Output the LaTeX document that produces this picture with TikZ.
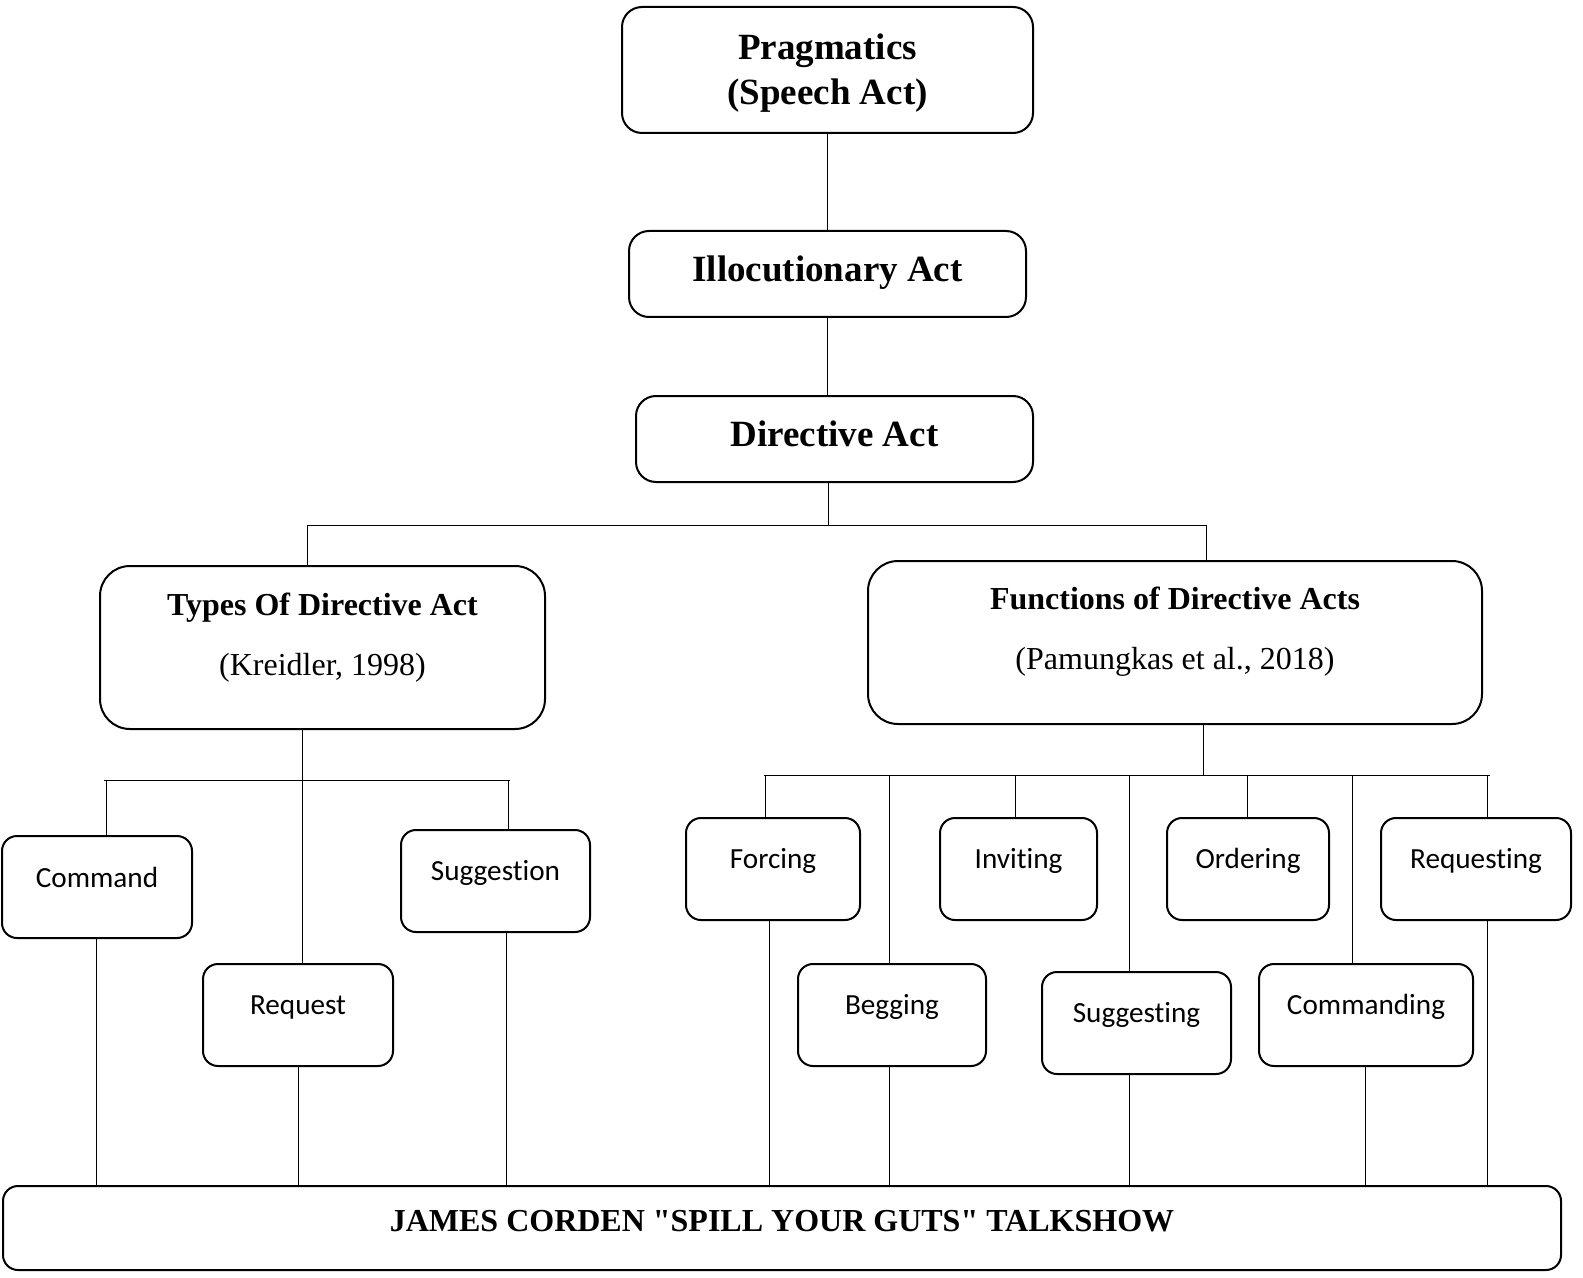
\documentclass[tikz,border=0pt]{standalone}
\usepackage{fontspec}
\setmainfont{Liberation Serif}[Ligatures=TeXOff]
\newfontfamily\calfont[Ligatures=NoCommon]{Carlito}
\usetikzlibrary{fit}
\begin{document}
\begin{tikzpicture}[x=0.5pt,y=-0.5pt,
  box/.style={draw, line width=1pt, rounded corners=7.5pt, inner sep=0pt},
  topbox/.style={box, rounded corners=10pt},
  bigbox/.style={box, rounded corners=15pt},
  conn/.style={line width=0.5pt},
  ttl/.style={font=\fontsize{18.5}{22.5}\selectfont\bfseries, align=center},
  sub/.style={font=\fontsize{16}{30}\selectfont, align=center},
  btm/.style={font=\fontsize{16}{19}\selectfont\bfseries},
  cal/.style={font=\calfont\fontsize{14.6}{17}\selectfont, yshift=4pt}]
\useasboundingbox (0,0) rectangle (1583,1278);

% top chain
\node[topbox, fit={(622,7) (1033,133)}, label={[ttl, yshift=-1.5pt]center:{Pragmatics\\(Speech Act)}}] (prag) {};
\node[topbox, fit={(629,231) (1026,317)}, label={[ttl, yshift=0.5pt]center:{Illocutionary Act}}] (illoc) {};
\node[topbox, fit={(636,396) (1033,482)}, label={[ttl, yshift=2.5pt]center:{Directive Act}}] (dir) {};

% second level
\node[bigbox, fit={(100,566) (545,729)}, label={[sub, yshift=5pt]center:{\textbf{Types Of Directive Act}\\(Kreidler, 1998)}}] (types) {};
\node[bigbox, fit={(868,561) (1482,724)}, label={[sub, yshift=5.5pt]center:{\textbf{Functions of Directive Acts}\\(Pamungkas et al., 2018)}}] (func) {};

% types children
\node[box, fit={(2,836) (192,938)}, label={[cal, yshift=1pt]center:Command}] (cmd) {};
\node[box, fit={(203,964) (393,1066)}, label={[cal]center:Request}] (req) {};
\node[box, fit={(401,830) (590,932)}, label={[cal]center:Suggestion}] (sug) {};

% functions children
\node[box, fit={(686,818) (860,920)}, label={[cal]center:Forcing}] (forc) {};
\node[box, fit={(940,818) (1097,920)}, label={[cal]center:Inviting}] (invi) {};
\node[box, fit={(1167,818) (1329,920)}, label={[cal]center:Ordering}] (orde) {};
\node[box, fit={(1381,818) (1571,920)}, label={[cal]center:Requesting}] (reqg) {};
\node[box, fit={(798,964) (986,1066)}, label={[cal]center:Begging}] (begg) {};
\node[box, fit={(1042,972) (1231,1074)}, label={[cal]center:Suggesting}] (sugg) {};
\node[box, fit={(1259,964) (1473,1066)}, label={[cal]center:Commanding}] (comm) {};

% bottom
\node[box, fit={(3,1186) (1561,1270)}, label={[btm, yshift=3.5pt]center:{JAMES CORDEN "SPILL YOUR GUTS" TALKSHOW}}] (bot) {};

% top connectors
\draw[conn] (prag.south) -- (illoc.north);
\draw[conn] (illoc.south) -- (illoc.south |- dir.north);
\coordinate (j0) at (828,525);
\coordinate (jl) at (307,525);
\coordinate (jr) at (1206,525);
\draw[conn] (j0 |- dir.south) -- (j0);
\draw[conn] (jl) -- (jr);
\draw[conn] (jl) -- (jl |- types.north);
\draw[conn] (jr) -- (jr |- func.north);

% left group
\coordinate (kl) at (104,780);
\coordinate (kr) at (510,780);
\coordinate (kA) at (106,780);
\coordinate (kM) at (302,780);
\coordinate (kS) at (508,780);
\draw[conn] (kl) -- (kr);
\draw[conn] (kM |- types.south) -- (kM |- req.north);
\draw[conn] (kA) -- (kA |- cmd.north);
\draw[conn] (kS) -- (kS |- sug.north);
\coordinate (dA) at (96,0);
\coordinate (dM) at (298,0);
\coordinate (dS) at (506,0);
\draw[conn] (dA |- cmd.south) -- (dA |- bot.north);
\draw[conn] (dM |- req.south) -- (dM |- bot.north);
\draw[conn] (dS |- sug.south) -- (dS |- bot.north);

% right group
\coordinate (rl) at (764,775);
\coordinate (rr) at (1490,775);
\coordinate (rM) at (1203,775);
\draw[conn] (rl) -- (rr);
\draw[conn] (rM |- func.south) -- (rM);
\coordinate (rF) at (765,775);
\coordinate (rB) at (889,775);
\coordinate (rI) at (1015,775);
\coordinate (rS) at (1129,775);
\coordinate (rO) at (1247,775);
\coordinate (rC) at (1352,775);
\coordinate (rQ) at (1487,775);
\draw[conn] (rF) -- (rF |- forc.north);
\draw[conn] (rB) -- (rB |- begg.north);
\draw[conn] (rI) -- (rI |- invi.north);
\draw[conn] (rS) -- (rS |- sugg.north);
\draw[conn] (rO) -- (rO |- orde.north);
\draw[conn] (rC) -- (rC |- comm.north);
\draw[conn] (rQ) -- (rQ |- reqg.north);
\coordinate (eF) at (769,0);
\coordinate (eC) at (1365,0);
\draw[conn] (eF |- forc.south) -- (eF |- bot.north);
\draw[conn] (rB |- begg.south) -- (rB |- bot.north);
\draw[conn] (rS |- sugg.south) -- (rS |- bot.north);
\draw[conn] (eC |- comm.south) -- (eC |- bot.north);
\draw[conn] (rQ |- reqg.south) -- (rQ |- bot.north);
\end{tikzpicture}
\end{document}
